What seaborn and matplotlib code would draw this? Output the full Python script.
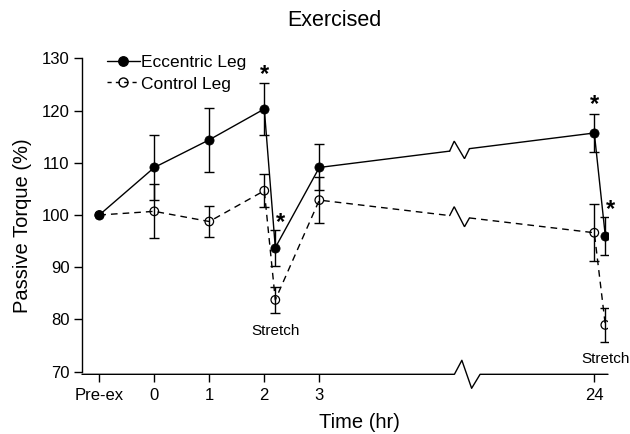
import numpy as np
import pandas as pd
import matplotlib
matplotlib.use('Agg')
import matplotlib.pyplot as plt
import seaborn as sns
from matplotlib.lines import Line2D

# ---------------- data ----------------
times = ['Pre-ex', '0', '1', '2', '3', '24']
ecc_mean = [100.0, 109.1, 114.4, 120.3, 109.1, 115.7]
ecc_err = [0.0, 6.2, 6.1, 4.9, 4.4, 3.7]
ctl_mean = [100.0, 100.7, 98.75, 104.65, 102.85, 96.6]
ctl_err = [0.0, 5.2, 2.95, 3.15, 4.45, 5.5]

stretch_times = ['2', '24']
ecc_stretch_mean = [93.75, 96.0]
ecc_stretch_err = [3.45, 3.6]
ctl_stretch_mean = [83.75, 78.95]
ctl_stretch_err = [2.55, 3.25]

yticks = [70, 80, 90, 100, 110, 120, 130]

# ---------------- layout ----------------
axis_pos = {'Pre-ex': -1, '0': 0, '1': 1, '2': 2, '3': 3, '24': 8}
stretch_shift = 0.2
line_break_x = 5.55
axis_break_x = 5.69

sns.set_style('ticks')
plt.rcParams['font.family'] = ['Liberation Sans', 'DejaVu Sans']
plt.rcParams['axes.linewidth'] = 1.0
for k in ['text.color', 'axes.labelcolor', 'xtick.color', 'ytick.color', 'axes.edgecolor']:
    plt.rcParams[k] = 'black'

fig = plt.figure(figsize=(6.3, 4.34), dpi=100)
ax = fig.add_axes([82 / 630, 1 - 374.3 / 434, 526 / 630, 316 / 434])


def build(mean, err, s_mean, s_err):
    rows = []
    for t, m, e in zip(times, mean, err):
        rows.append((axis_pos[t], m, e, False))
    for t, m, e in zip(stretch_times, s_mean, s_err):
        rows.append((axis_pos[t] + stretch_shift, m, e, True))
    df = pd.DataFrame(rows, columns=['x', 'y', 'err', 'stretch'])
    return df.sort_values('x').reset_index(drop=True)


ecc = build(ecc_mean, ecc_err, ecc_stretch_mean, ecc_stretch_err)
ctl = build(ctl_mean, ctl_err, ctl_stretch_mean, ctl_stretch_err)


def split_with_break(df, xb, w=0.36, a=1.8):
    xs, ys = df['x'].to_numpy(), df['y'].to_numpy()
    f = lambda x: np.interp(x, xs, ys)
    x0, x1 = xb - w / 2, xb + w / 2
    left = pd.DataFrame({'x': list(xs[xs < xb]) + [x0], 'y': list(ys[xs < xb]) + [f(x0)]})
    right = pd.DataFrame({'x': [x1] + list(xs[xs > xb]), 'y': [f(x1)] + list(ys[xs > xb])})
    zx = [x0, xb - w * 0.27, xb + w * 0.25, x1]
    zy = [f(x0), f(zx[1]) + a, f(zx[2]) - a, f(x1)]
    left['seg'] = 0
    right['seg'] = 1
    return pd.concat([left, right]), (zx, zy)


dash = (0, (4.8, 3.6))
for df, ls in [(ctl, dash), (ecc, '-')]:
    segs, (zx, zy) = split_with_break(df, line_break_x)
    sns.lineplot(data=segs, x='x', y='y', units='seg', estimator=None, sort=False,
                 color='black', lw=1.0, linestyle=ls, ax=ax, legend=False)
    ax.plot(zx, zy, color='black', lw=1.0, solid_joinstyle='miter')

# error bars
for df in (ctl, ecc):
    d = df[df['err'] > 0]
    ax.errorbar(d['x'], d['y'], yerr=d['err'], fmt='none', ecolor='black',
                elinewidth=1.0, capsize=3.3, capthick=1.0, zorder=3)

# markers
sns.scatterplot(data=ctl, x='x', y='y', marker='o', s=38, facecolor='none',
                edgecolor='black', linewidth=0.9, ax=ax, zorder=4, legend=False)
sns.scatterplot(data=ecc, x='x', y='y', marker='o', s=44, color='black',
                edgecolor='black', linewidth=0.5, ax=ax, zorder=5, legend=False)

# asterisks (significant points on eccentric leg)
star_kw = dict(textcoords='offset points', ha='center', va='bottom', fontsize=17,
               fontweight='bold', annotation_clip=False)
for _, r in ecc[ecc['err'] > 0].iterrows():
    if r['stretch']:
        ax.annotate('*', xy=(r['x'], r['y'] + r['err']), xytext=(3.5, -3), **star_kw)
for t in ['2', '24']:
    r = ecc[(ecc['x'] == axis_pos[t])].iloc[0]
    ax.annotate('*', xy=(r['x'], r['y'] + r['err']), xytext=(0, -2), **star_kw)

# Stretch labels
for _, r in ctl[ctl['stretch']].iterrows():
    ax.annotate('Stretch', xy=(r['x'], r['y'] - r['err']), xytext=(0, -7.5), textcoords='offset points',
                ha='center', va='top', fontsize=11, annotation_clip=False)

# axes
ax.set_xlim(-1.3145, 8.249)
ax.set_ylim(69.5, 130)
ax.set_yticks(yticks)
ax.set_xticks([axis_pos[t] for t in times])
ax.set_xticklabels(times)
ax.tick_params(axis='both', direction='out', length=6, width=1.0, labelsize=12, color='black')
ax.tick_params(axis='x', pad=4)
ax.tick_params(axis='y', pad=3)
sns.despine(ax=ax)
ax.spines['left'].set_bounds(70, 130)
ax.spines['bottom'].set_visible(False)

# broken x axis line
trans = ax.get_xaxis_transform()
xmin, xmax = ax.get_xlim()
w = 0.467
h = 14 / 316
bx = [xmin, axis_break_x - w / 2, axis_break_x - w * 0.21, axis_break_x + w * 0.17,
      axis_break_x + w / 2, xmax]
by = [0, 0, h, -h, 0, 0]
ax.plot(bx, by, color='black', lw=1.0, transform=trans, clip_on=False)

ax.set_xlabel('Time (hr)', fontsize=14.5)
ax.set_ylabel('Passive Torque (%)', fontsize=14.5)
ax.xaxis.set_label_coords(0.528, -0.122)
ax.yaxis.set_label_coords(-0.095, 0.47)

fig.text(334 / 630, 1 - 21 / 434, 'Exercised', ha='center', va='center', fontsize=15.5)

handles = [Line2D([], [], color='black', lw=1.0, marker='o', markersize=6.8),
           Line2D([], [], color='black', lw=1.0, linestyle=(0, (3, 3)), marker='o',
                  markersize=6.5, markerfacecolor='none')]
ax.legend(handles, ['Eccentric Leg', 'Control Leg'], loc='upper left', bbox_to_anchor=(0.047, 1.01),
          frameon=False, fontsize=12.5, handlelength=1.9, handletextpad=0.1, borderaxespad=0,
          borderpad=0, labelspacing=0.35)

fig.savefig('out.png', dpi=100)
